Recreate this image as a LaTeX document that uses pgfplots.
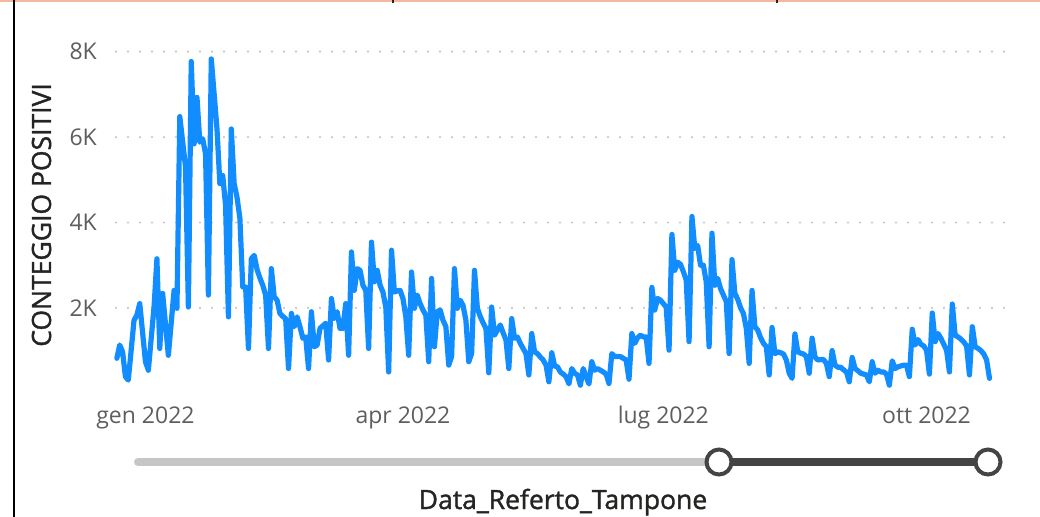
\documentclass[border=0pt]{standalone}
\usepackage{fontspec}
\setmainfont{Open Sans}
\newfontfamily\titlefont[FakeBold=1.3]{Open Sans}
\usepackage{pgfplots}
\usepackage{pgfplotstable}
\pgfplotsset{compat=1.18}
\definecolor{pbblue}{HTML}{118DFF}
\definecolor{ticktext}{HTML}{605E5C}
\definecolor{titletext}{HTML}{252423}
\definecolor{gridgray}{HTML}{C8C6C4}
\definecolor{slidergray}{HTML}{C8C6C4}
\definecolor{sliderdark}{HTML}{444444}
\definecolor{topline}{HTML}{F2B9A0}

\pgfplotstableread{
day count
-10 820
-9 1130
-8 970
-7 390
-6 310
-4 1710
-3 1830
-2 2100
0 740
1 540
3 2020
4 3150
5 1050
6 2340
8 890
10 2410
11 1990
12 6480
14 5300
15 2020
16 7770
17 5840
18 6930
19 5880
20 5960
21 5610
22 2300
23 7830
25 6190
26 4910
27 5100
28 4400
29 1790
30 6190
31 4910
32 4590
33 4100
34 2490
35 2490
36 1050
37 3150
38 3230
39 2900
40 2700
41 2530
42 2300
43 1050
44 2920
45 2260
46 2180
47 1870
48 1800
49 1750
50 580
51 1870
52 1560
53 1790
54 1560
55 1290
56 1320
57 580
58 1910
59 1090
60 1130
61 1520
62 1580
63 1640
64 780
65 2220
66 1750
67 1910
68 1520
69 1520
70 2100
71 890
72 3310
73 2410
74 2920
75 2880
76 2530
77 2410
78 1050
79 3540
80 2610
81 2880
82 2530
83 2370
84 2020
85 500
86 3350
87 2370
88 2400
89 2410
90 2220
91 1790
92 890
93 2840
94 1990
95 2300
96 2100
97 1950
98 1830
99 740
100 2690
101 1090
102 1910
103 1950
104 1710
105 1560
106 660
107 860
108 2920
109 1990
110 2180
111 2060
112 1710
113 740
114 930
115 2880
116 1990
117 1800
118 1650
119 1520
120 480
121 2020
122 1360
123 1480
124 1600
125 1420
126 1250
127 580
128 1750
129 1290
130 1320
131 1170
132 1050
133 930
134 430
135 1400
136 970
137 930
138 850
139 780
140 660
141 270
142 950
143 640
144 620
145 500
146 450
147 390
148 220
149 580
150 470
151 430
152 190
153 580
154 390
155 220
156 740
157 540
158 580
159 540
160 500
161 450
162 230
163 930
164 860
165 860
166 860
167 820
168 780
169 330
170 1400
171 1170
172 1300
173 1360
174 1320
175 1320
176 700
177 2480
178 1950
179 2220
180 2180
181 2100
182 2020
183 1010
184 3720
185 2880
186 3070
187 3020
188 2850
189 2650
190 1210
191 4140
192 3390
193 3460
194 3000
195 3000
196 2610
197 1090
198 3750
199 2530
200 2690
201 2450
202 2300
203 2150
204 930
205 3130
206 2340
207 2200
208 2000
209 1870
210 1520
211 700
212 2410
213 1560
214 1480
215 1300
216 1170
217 1090
218 430
219 1540
220 930
221 970
222 950
223 920
224 780
225 470
226 350
227 1390
228 970
229 940
230 920
231 860
232 470
233 1290
234 850
235 780
236 790
237 790
238 700
239 390
240 1000
241 660
242 610
243 610
244 550
245 500
246 270
247 840
248 580
249 530
250 470
251 450
252 430
253 270
254 740
255 470
256 540
257 500
258 500
259 450
260 190
261 760
262 580
263 620
264 640
265 660
266 660
267 390
268 1500
269 1130
270 1260
271 1150
272 1110
273 1010
274 450
275 1880
276 1210
277 1400
278 1290
279 1150
280 1010
281 500
282 2090
283 1360
284 1320
285 1270
286 1200
287 1110
288 430
289 1560
290 1090
291 1050
292 1000
293 920
294 780
295 350
}\positivi

\begin{document}
\begin{tikzpicture}
\useasboundingbox (0,0) rectangle (1040bp,-517bp);
\fill[white] (0,0) rectangle (1040bp,-517bp);
% card decorations
\fill[topline] (0,0) rectangle (1040bp,-1.6bp);
\fill[black!85] (392bp,0) rectangle (394bp,-2.5bp);
\fill[black!85] (776bp,0) rectangle (778bp,-2.5bp);
\fill[black] (13bp,0) rectangle (15bp,-517bp);

\begin{axis}[
  at={(116bp,-393.3bp)}, anchor=south west,
  scale only axis, width=897.8bp, height=350.2bp,
  xmin=-10.3, xmax=303.5, ymin=0, ymax=8200,
  clip=false,
  axis line style={draw=none},
  major tick length=0pt,
  tick style={draw=none},
  xtick={0,90,181,273},
  xticklabels={gen 2022,apr 2022,lug 2022,ott 2022},
  ytick={2000,4000,6000,8000},
  yticklabels={2K,4K,6K,8K},
  ymajorgrids,
  grid style={line width=2.4bp, color=gridgray, line cap=round, dash pattern=on 0bp off 12bp},
  ticklabel style={font=\fontsize{23bp}{27bp}\selectfont, text=ticktext, inner sep=0pt},
  yticklabel style={anchor=east, xshift=-19bp},
  xticklabel style={anchor=base, yshift=-29.7bp},
]
\addplot[color=pbblue, line width=5.2bp, line join=round, line cap=round, mark=none]
  table[x=day, y=count] {\positivi};
\end{axis}

% axis titles
\node[rotate=90, anchor=center, inner sep=0pt, text=titletext,
  font=\titlefont\fontsize{26.5bp}{30bp}\selectfont] at (41.5bp,-215bp) {CONTEGGIO POSITIVI};
\node[anchor=base, inner sep=0pt, text=titletext,
  font=\titlefont\fontsize{26.5bp}{30bp}\selectfont] at (563bp,-509bp) {Data\_Referto\_Tampone};

% range slider
\draw[line width=8bp, line cap=round, color=slidergray] (138bp,-462bp) -- (719bp,-462bp);
\draw[line width=8bp, color=sliderdark] (719bp,-462bp) -- (988bp,-462bp);
\draw[line width=4bp, draw=sliderdark, fill=white] (719bp,-462bp) circle (12.5bp);
\draw[line width=4bp, draw=sliderdark, fill=white] (988bp,-462bp) circle (12.5bp);
\end{tikzpicture}
\end{document}
